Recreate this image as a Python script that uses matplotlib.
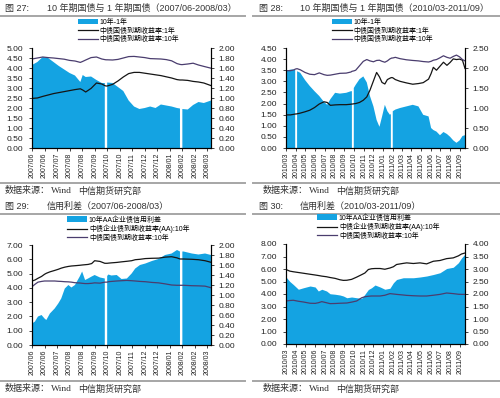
import numpy as np
import pandas as pd
import matplotlib
matplotlib.use("Agg")
import matplotlib.pyplot as plt
from matplotlib.patches import Patch
from matplotlib.lines import Line2D
from matplotlib.ticker import FormatStrFormatter

plt.rcParams['font.family'] = ['Liberation Sans', 'Noto Sans CJK SC', 'DejaVu Sans']

nan = np.nan
W, H = 500, 398
BLUE = '#14a3e2'
C_A = '#151515'
C_B = '#4a3d6e'

# fig 27: days since 2007-06-01
days27 = [0, 9, 18, 27, 36, 45, 54, 63, 72, 81, 85, 90, 99, 108, 117, 122, 124, 126, 135, 144,
          153, 162, 171, 180, 189, 198, 207, 216, 225, 234, 243, 248, 250, 252, 261, 270, 279, 288, 300]
spread27 = [1.66, 1.72, 1.82, 1.80, 1.72, 1.64, 1.57, 1.50, 1.45, 1.32, 1.46, 1.42, 1.43, 1.36, 1.30, 1.30, nan, 1.31, 1.30, 1.22,
            1.14, 0.95, 0.83, 0.78, 0.80, 0.83, 0.80, 0.87, 0.85, 0.83, 0.80, 0.79, nan, 0.78, 0.77, 0.86, 0.92, 0.90, 0.95]
y1_27 = [2.48, 2.50, 2.58, 2.65, 2.72, 2.77, 2.82, 2.87, 2.92, 2.96, 2.90, 2.80, 2.98, 3.25, 3.20, 3.12, 3.10, 3.10, 3.18, 3.35,
         3.55, 3.72, 3.78, 3.78, 3.74, 3.70, 3.66, 3.62, 3.56, 3.50, 3.42, 3.40, 3.40, 3.40, 3.38, 3.33, 3.30, 3.25, 3.12]
y10_27 = [4.45, 4.50, 4.55, 4.52, 4.50, 4.47, 4.44, 4.38, 4.35, 4.28, 4.33, 4.40, 4.52, 4.55, 4.45, 4.42, 4.41, 4.41, 4.40, 4.43,
          4.50, 4.57, 4.58, 4.55, 4.52, 4.47, 4.46, 4.45, 4.42, 4.36, 4.22, 4.18, 4.17, 4.17, 4.20, 4.24, 4.15, 4.08, 3.99]

# fig 28: days since 2010-03-01
days28 = [0, 14, 26, 29, 32, 35, 45, 60, 75, 90, 105, 120, 130, 140, 155, 170, 190, 205, 208, 211,
          214, 220, 232, 244, 255, 265, 276, 286, 295, 303, 312, 320, 328, 331, 334, 337, 345, 360, 380, 400,
          418, 433, 450, 458, 465, 475, 486, 497, 508, 518, 528, 538, 548, 557, 565]
spread28 = [1.93, 1.96, 1.96, 1.95, nan, 1.92, 1.88, 1.70, 1.55, 1.42, 1.30, 1.15, 1.08, 1.22, 1.38, 1.36, 1.38, 1.42, 1.42, nan,
            1.50, 1.58, 1.72, 1.79, 1.64, 1.30, 1.04, 0.70, 0.53, 0.78, 1.08, 0.92, 0.83, 0.85, nan, 0.92, 0.96, 1.00, 1.04, 1.08,
            1.04, 0.83, 0.79, 0.50, 0.45, 0.41, 0.32, 0.40, 0.35, 0.28, 0.19, 0.13, 0.19, 0.30, 0.32]
y1_28 = [1.49, 1.49, 1.52, 1.53, 1.53, 1.54, 1.57, 1.63, 1.70, 1.82, 1.98, 2.08, 2.05, 1.92, 1.94, 1.95, 1.95, 1.97, 1.98, 1.98,
         1.99, 2.00, 2.05, 2.15, 2.30, 2.60, 3.02, 3.40, 3.20, 2.95, 2.88, 3.08, 3.14, 3.16, 3.17, 3.16, 3.08, 3.00, 2.93, 2.87,
         2.90, 2.94, 3.10, 3.35, 3.63, 3.50, 3.68, 3.86, 3.72, 3.85, 4.01, 3.98, 4.00, 3.95, 3.58]
y10_28 = [3.48, 3.48, 3.52, 3.55, 3.56, 3.57, 3.52, 3.40, 3.32, 3.30, 3.38, 3.30, 3.27, 3.28, 3.32, 3.36, 3.37, 3.42, 3.45, 3.46,
          3.47, 3.50, 3.70, 3.90, 3.98, 3.92, 3.88, 3.94, 3.95, 3.90, 3.86, 3.92, 4.01, 4.03, 4.05, 4.05, 4.08, 4.02, 3.97, 3.94,
          3.92, 3.89, 3.87, 3.90, 3.95, 3.98, 4.06, 4.15, 4.08, 4.04, 4.12, 4.18, 4.10, 3.98, 3.92]

# fig 29: days since 2007-06-01
days29 = [0, 5, 10, 16, 21, 24, 30, 38, 44, 49, 55, 61, 66, 72, 80, 84, 89, 94, 100, 105,
          114, 122, 124, 126, 128, 133, 142, 150, 159, 167, 173, 181, 190, 201, 212, 223, 234, 243, 248, 250,
          252, 254, 268, 279, 290, 300]
spread29 = [0.43, 0.47, 0.57, 0.60, 0.53, 0.50, 0.63, 0.73, 0.83, 0.93, 1.13, 1.20, 1.15, 1.20, 1.37, 1.47, 1.30, 1.33, 1.37, 1.40,
            1.35, 1.33, nan, 1.38, 1.41, 1.39, 1.40, 1.32, 1.33, 1.43, 1.53, 1.60, 1.63, 1.68, 1.72, 1.80, 1.83, 1.90, 1.87, nan,
            1.87, 1.87, 1.83, 1.81, 1.83, 1.80]
aa29 = [4.48, 4.55, 4.67, 4.80, 4.95, 5.02, 5.12, 5.22, 5.30, 5.38, 5.45, 5.50, 5.53, 5.55, 5.58, 5.60, 5.62, 5.64, 5.70, 5.90,
        5.85, 5.72, 5.72, 5.72, 5.73, 5.75, 5.78, 5.82, 5.86, 5.90, 5.97, 6.00, 6.05, 6.07, 6.08, 6.15, 6.18, 6.10, 6.02, 6.02,
        6.02, 6.02, 6.00, 5.97, 5.90, 5.79]
tsy29 = [4.08, 4.25, 4.40, 4.45, 4.48, 4.48, 4.48, 4.48, 4.46, 4.45, 4.43, 4.42, 4.40, 4.36, 4.34, 4.32, 4.30, 4.30, 4.32, 4.35,
         4.33, 4.40, 4.40, 4.40, 4.43, 4.45, 4.48, 4.50, 4.52, 4.50, 4.48, 4.45, 4.43, 4.38, 4.35, 4.28, 4.20, 4.18, 4.18, 4.18,
         4.18, 4.18, 4.15, 4.14, 4.12, 4.01]

# fig 30: days since 2010-03-01
days30 = [0, 12, 23, 39, 55, 76, 92, 102, 113, 128, 139, 155, 170, 181, 192, 207, 223, 239, 249, 260,
          270, 281, 297, 312, 328, 339, 349, 370, 381, 402, 423, 444, 465, 486, 507, 528, 544, 554, 565]
spread30 = [2.68, 2.50, 2.38, 2.19, 2.25, 2.32, 2.28, 2.12, 2.19, 2.12, 2.01, 1.99, 1.96, 1.92, 1.85, 1.88, 1.85, 1.83, 1.99, 2.18,
            2.25, 2.36, 2.28, 2.19, 2.23, 2.45, 2.58, 2.65, 2.65, 2.65, 2.68, 2.72, 2.78, 2.85, 3.02, 3.07, 3.25, 3.44, 3.60]
aa30 = [5.96, 5.83, 5.78, 5.72, 5.66, 5.58, 5.52, 5.48, 5.43, 5.38, 5.32, 5.25, 5.14, 5.09, 5.10, 5.17, 5.35, 5.55, 5.68, 5.96,
        6.02, 6.04, 6.04, 5.98, 6.08, 6.18, 6.36, 6.45, 6.49, 6.44, 6.49, 6.41, 6.62, 6.68, 6.83, 6.89, 7.05, 7.20, 7.28]
tsy30 = [3.44, 3.48, 3.50, 3.42, 3.36, 3.26, 3.25, 3.30, 3.39, 3.30, 3.23, 3.24, 3.26, 3.27, 3.28, 3.35, 3.44, 3.70, 3.78, 3.82,
         3.84, 3.84, 3.84, 3.90, 4.03, 4.00, 3.97, 3.92, 3.89, 3.86, 3.84, 3.84, 3.90, 3.97, 4.08, 4.03, 3.98, 3.97, 3.97]

ticks_0708 = ['2007/06', '2007/06', '2007/07', '2007/08', '2007/08', '2007/09', '2007/10', '2007/10',
              '2007/11', '2007/12', '2007/12', '2008/01', '2008/02', '2008/02', '2008/03']
ticks_1011 = ['2010/03', '2010/04', '2010/05', '2010/06', '2010/07', '2010/08', '2010/09', '2010/10',
              '2010/11', '2010/12', '2011/01', '2011/02', '2011/03', '2011/04', '2011/05', '2011/06',
              '2011/07', '2011/08', '2011/09']
pos_0708 = np.arange(len(ticks_0708)) * 21
pos_1011 = (pd.date_range('2010-03-01', periods=len(ticks_1011), freq='MS') - pd.Timestamp('2010-03-01')).days

leg_tsy = ['10年-1年', '中债国债到期收益率:1年', '中债国债到期收益率:10年']
leg_credit = ['10年AA企业债信用利差', '中债企业债到期收益率(AA):10年', '中债国债到期收益率:10年']


def fx(x):
    return x / W


def fy(y):
    return 1 - y / H


fig = plt.figure(figsize=(W / 100, H / 100), dpi=100)


def panel(ox, oy, top, days, area, line_a, line_b, xmax, tpos, tlab, lmax, lstep, rmax, rstep,
          legx, legy, labels, num, title, title_x):
    ax = fig.add_axes([fx(ox + 32), fy(top + 100), 179 / W, 100 / H])
    ax2 = ax.twinx()
    d = np.array(days, float)
    ax2.fill_between(d, 0, np.array(area, float), color=BLUE, lw=0)
    ax.plot(d, line_a, color=C_A, lw=0.9)
    ax.plot(d, line_b, color=C_B, lw=0.9)
    ax.set_zorder(ax2.get_zorder() + 1)
    ax.patch.set_visible(False)
    ax.set_xlim(0, xmax)
    ax.set_ylim(0, lmax)
    ax2.set_ylim(0, rmax)
    ax.set_yticks(np.arange(0, lmax + lstep / 2, lstep))
    ax2.set_yticks(np.arange(0, rmax + rstep / 2, rstep))
    ax.yaxis.set_major_formatter(FormatStrFormatter('%.2f'))
    ax2.yaxis.set_major_formatter(FormatStrFormatter('%.2f'))
    ax.set_xticks(tpos)
    ax.set_xticklabels(tlab, rotation=90)
    for a in (ax, ax2):
        a.spines['top'].set_visible(False)
        for s in a.spines.values():
            s.set_linewidth(0.8)
    ax.tick_params(axis='y', labelsize=6, length=2.5, width=0.6, pad=4, colors='#222222')
    ax2.tick_params(axis='y', labelsize=6, length=2.5, width=0.6, pad=3, colors='#222222')
    ax.tick_params(axis='x', labelsize=5, length=2, width=0.6, pad=1.5, colors='#222222')

    handles = [Patch(facecolor=BLUE, edgecolor='none'),
               Line2D([], [], color=C_A, lw=0.9),
               Line2D([], [], color=C_B, lw=0.9)]
    fig.legend(handles, labels, loc='upper left', bbox_to_anchor=(fx(legx), fy(legy)),
               bbox_transform=fig.transFigure, frameon=False, fontsize=5, borderpad=0,
               borderaxespad=0, handlelength=2.9, handleheight=0.8, handletextpad=0.25,
               labelspacing=0.2)

    # title, separators, source
    fig.text(fx(ox + 5), fy(oy + 8), num, fontsize=6.5, va='center', color='#333333')
    fig.text(fx(title_x), fy(oy + 8), title, fontsize=6.5, va='center', color='#333333')
    x0, x1 = (0, 245) if ox == 0 else (253, 500)
    for yy in (oy + 16, oy + 183):
        fig.add_artist(Line2D([fx(x0), fx(x1)], [fy(yy), fy(yy)], transform=fig.transFigure,
                              color='#a6a6a6', lw=1.4))
    sx = ox + 5 if ox == 0 else ox + 9
    fig.text(fx(sx), fy(oy + 191), '数据来源：', fontsize=6.5, va='center', color='#333333')
    fig.text(fx(sx + 46), fy(oy + 191), 'Wind', fontsize=6.8, va='center', color='#333333',
             family=['Liberation Serif'])
    fig.text(fx(sx + 73), fy(oy + 191), '中信期货研究部', fontsize=6.5, va='center', color='#333333')


panel(0, 0, 48, days27, spread27, y1_27, y10_27, 300, pos_0708, ticks_0708, 5, 0.5, 2, 0.2,
      78, 19, leg_tsy, '图 27:', '10 年期国债与 1 年期国债（2007/06-2008/03）', 47)
panel(254, 0, 48, days28, spread28, y1_28, y10_28, 565, pos_1011, ticks_1011, 4.5, 0.5, 2.5, 0.5,
      332, 19, leg_tsy, '图 28:', '10 年期国债与 1 年期国债（2010/03-2011/09）', 300)
panel(0, 198, 245, days29, spread29, aa29, tsy29, 300, pos_0708, ticks_0708, 7, 1, 2, 0.2,
      67, 216, leg_credit, '图 29:', '信用利差（2007/06-2008/03）', 47)
panel(254, 198, 244, days30, spread30, aa30, tsy30, 565, pos_1011, ticks_1011, 8, 1, 4, 0.5,
      317, 214, leg_credit, '图 30:', '信用利差（2010/03-2011/09）', 300)

fig.savefig('out.png', dpi=100)
